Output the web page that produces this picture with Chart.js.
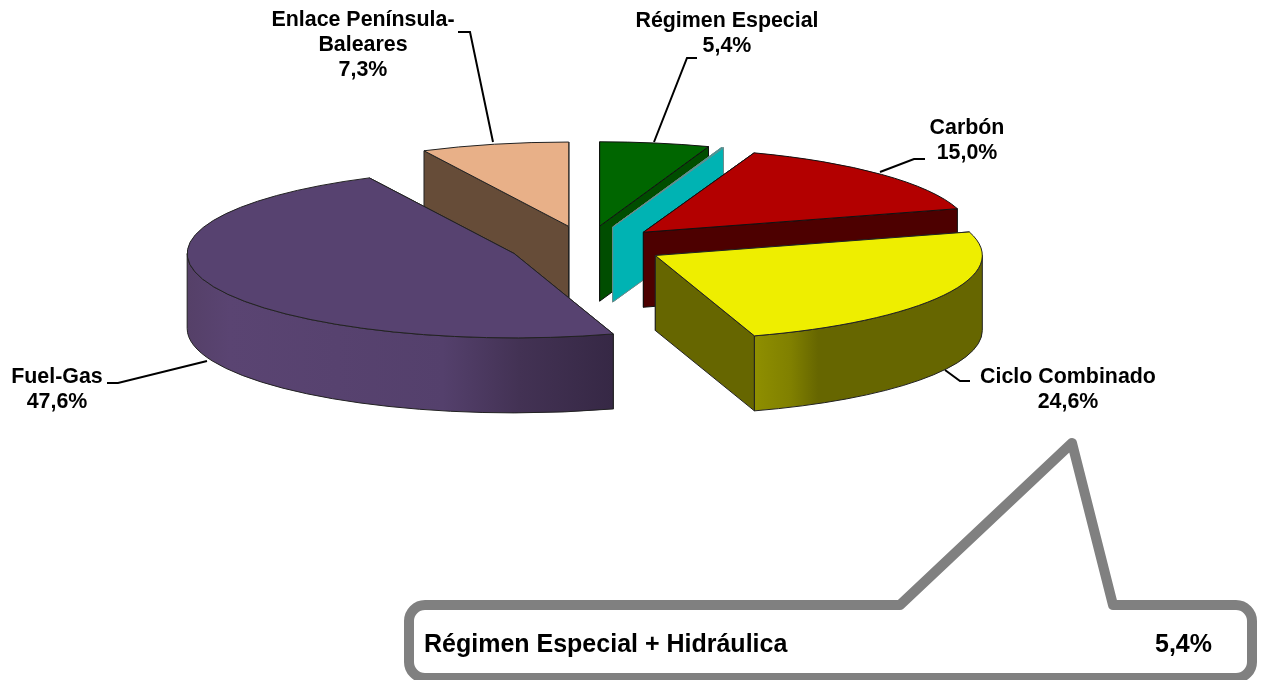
<!DOCTYPE html>
<html>
<head>
<meta charset="utf-8">
<style>
    html, body { margin: 0; padding: 0; background: #fff; overflow: hidden; }
    canvas { display: block; }
</style>
<script src="https://cdn.jsdelivr.net/npm/chart.js@4"></script>
</head>
<body>
<canvas id="mixChart" width="1261" height="680"></canvas>
<script>
// back-to-front order, the plugin paints slices in this sequence
const categories = ['Enlace Península-Baleares', 'Régimen Especial', 'Hidráulica', 'Carbón', 'Ciclo Combinado', 'Fuel-Gas'];
const shares = [7.3, 5.4, 0.1, 15.0, 24.6, 47.6];
const topColors = ['#e8b088', '#006600', '#00b3b3', '#b30000', '#eeee00', '#574270'];
const wallColors = ['#664c38', '#004d00', '#00b3b3', '#4d0000', '#666600', '#574270'];
const edgeColors = ['#222', '#111', '#6b8a8a', '#111', '#222', '#222'];

// shading along the curved wall, by slice index
const wallShades = {
    4: [[0, '#8f8f00'], [0.16, '#808000'], [0.28, '#666600'], [1, '#666600']],
    5: [[0, '#554068'], [0.1, '#5a4472'], [0.6, '#54406c'], [0.78, '#433254'], [1, '#362845']]
};

const calloutText = 'Régimen Especial + Hidráulica';
const calloutValue = '5,4%';

const squash = 0.258;   // height / width of the tilted pie
const explode = 78;     // pull-out distance of each slice
const depth = 75;       // thickness of the pie

const labelBlocks = [
    { lines: ['Enlace Península-', 'Baleares', '7,3%'], x: 363, y: 26, leader: [[458, 32], [470, 32], [493, 142]] },
    { lines: ['Régimen Especial', '5,4%'], x: 727, y: 27, leader: [[697, 58], [687, 58], [654, 142]] },
    { lines: ['Carbón', '15,0%'], x: 967, y: 134, leader: [[925, 159], [914, 159], [880, 172]] },
    { lines: ['Ciclo Combinado', '24,6%'], x: 1068, y: 383, leader: [[970, 381], [960, 381], [945, 370]] },
    { lines: ['Fuel-Gas', '47,6%'], x: 57, y: 383, leader: [[107, 383], [118, 383], [207, 361]] }
];

function drawSlice(ctx, arc, index) {
    const mid = (arc.startAngle + arc.endAngle) / 2;
    const cy = arc.y;
    const ax = arc.x + Math.cos(mid) * explode;
    const ay = cy + Math.sin(mid) * explode * squash;
    const rx = arc.outerRadius;
    const ry = rx * squash;
    const a0 = arc.startAngle;
    const a1 = arc.endAngle;

    ctx.save();
    ctx.lineWidth = 1;
    ctx.strokeStyle = edgeColors[index];
    ctx.lineJoin = 'round';

    // flat cut faces
    [a0, a1].forEach(a => {
        const ex = ax + Math.cos(a) * rx;
        const ey = ay + Math.sin(a) * ry;
        ctx.beginPath();
        ctx.moveTo(ax, ay);
        ctx.lineTo(ex, ey);
        ctx.lineTo(ex, ey + depth);
        ctx.lineTo(ax, ay + depth);
        ctx.closePath();
        ctx.fillStyle = wallColors[index];
        ctx.fill();
        ctx.stroke();
    });

    // curved wall, only the part facing the viewer (sin > 0)
    const wallFrom = Math.max(a0, 0);
    const wallTo = Math.min(a1, Math.PI);
    if (wallTo > wallFrom) {
        const xLeft = ax + Math.cos(wallTo) * rx;
        const xRight = ax + Math.cos(wallFrom) * rx;
        let fill = wallColors[index];
        if (wallShades[index]) {
            // stops run left to right over the visible wall
            fill = ctx.createLinearGradient(xLeft, 0, xRight, 0);
            wallShades[index].forEach(([pos, color]) => fill.addColorStop(pos, color));
        }
        ctx.beginPath();
        ctx.ellipse(ax, ay, rx, ry, 0, wallFrom, wallTo);
        ctx.ellipse(ax, ay + depth, rx, ry, 0, wallTo, wallFrom, true);
        ctx.closePath();
        ctx.fillStyle = fill;
        ctx.fill();
        ctx.stroke();
    }

    // top face: the library's arc under a squash transform
    ctx.save();
    ctx.translate(ax, ay);
    ctx.scale(1, squash);
    ctx.translate(-arc.x, -cy);
    arc.draw(ctx);
    ctx.restore();

    ctx.beginPath();
    ctx.moveTo(ax, ay);
    ctx.ellipse(ax, ay, rx, ry, 0, a0, a1);
    ctx.closePath();
    ctx.stroke();
    ctx.restore();
}

const pie3d = {
    id: 'pie3d',
    beforeDatasetDraw(chart) {
        chart.getDatasetMeta(0).data.forEach((arc, i) => drawSlice(chart.ctx, arc, i));
        return false;
    },
    afterDraw(chart) {
        const ctx = chart.ctx;
        ctx.save();
        ctx.fillStyle = '#000';
        ctx.strokeStyle = '#000';
        ctx.lineWidth = 2;
        ctx.font = 'bold 21.4px "Liberation Sans"';
        ctx.textAlign = 'center';
        labelBlocks.forEach(block => {
            block.lines.forEach((line, i) => ctx.fillText(line, block.x, block.y + i * 25));
            ctx.beginPath();
            block.leader.forEach(([x, y], i) => i ? ctx.lineTo(x, y) : ctx.moveTo(x, y));
            ctx.stroke();
        });

        // callout box
        ctx.strokeStyle = '#808080';
        ctx.lineWidth = 10;
        ctx.lineJoin = 'round';
        ctx.beginPath();
        ctx.moveTo(425, 605);
        ctx.lineTo(900, 605);
        ctx.lineTo(1072, 443);
        ctx.lineTo(1113, 605);
        ctx.lineTo(1236, 605);
        ctx.arcTo(1252, 605, 1252, 621, 16);
        ctx.lineTo(1252, 662);
        ctx.arcTo(1252, 678, 1236, 678, 16);
        ctx.lineTo(425, 678);
        ctx.arcTo(409, 678, 409, 662, 16);
        ctx.lineTo(409, 621);
        ctx.arcTo(409, 605, 425, 605, 16);
        ctx.closePath();
        ctx.stroke();

        ctx.fillStyle = '#000';
        ctx.font = 'bold 25px "Liberation Sans"';
        ctx.textAlign = 'left';
        ctx.fillText(calloutText, 424, 652);
        ctx.textAlign = 'right';
        ctx.fillText(calloutValue, 1212, 652);
        ctx.restore();
    }
};

new Chart(document.getElementById('mixChart'), {
    type: 'pie',
    data: {
        labels: categories,
        datasets: [{
            data: shares,
            backgroundColor: topColors,
            borderWidth: 0
        }]
    },
    options: {
        responsive: false,
        animation: false,
        rotation: -shares[0] * 3.6,
        radius: 327,
        layout: { padding: { right: 88, bottom: 188 } },
        plugins: {
            legend: { display: false },
            tooltip: { enabled: false }
        }
    },
    plugins: [pie3d]
});
</script>
</body>
</html>
